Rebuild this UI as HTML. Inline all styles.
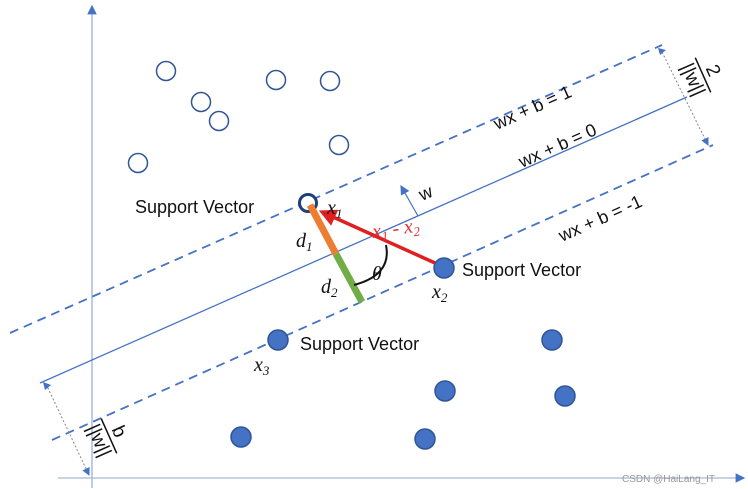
<!DOCTYPE html>
<html><head><meta charset="utf-8"><style>body{margin:0;background:#fff}svg{display:block}</style></head><body>
<svg width="748" height="489" viewBox="0 0 748 489" xmlns="http://www.w3.org/2000/svg" font-family="Liberation Sans, sans-serif">
<defs>
<marker id="ah" markerWidth="8" markerHeight="8" refX="7" refY="4" orient="auto"><path d="M0,0 L8,4 L0,8 z" fill="#4472c4"/></marker>
<marker id="ahr" markerWidth="5" markerHeight="5" refX="4" refY="2.5" orient="auto"><path d="M0,0 L5,2.5 L0,5 z" fill="#e02020"/></marker>
</defs>
<line x1="92" y1="488" x2="92" y2="6" stroke="#8faadc" stroke-width="1.2" marker-end="url(#ah)"/>
<line x1="58" y1="478" x2="744" y2="478" stroke="#a9b8d0" stroke-width="1.2" marker-end="url(#ah)"/>
<line x1="10" y1="333" x2="662" y2="45" stroke="#4472c4" stroke-width="1.8" stroke-dasharray="9,6"/>
<line x1="40" y1="383" x2="687" y2="97" stroke="#4472c4" stroke-width="1.3"/>
<line x1="52" y1="440" x2="713" y2="145" stroke="#4472c4" stroke-width="1.8" stroke-dasharray="9,6"/>
<line x1="662" y1="52" x2="708" y2="145" stroke="#888" stroke-width="1" stroke-dasharray="2,2" marker-end="url(#ah)"/>
<path d="M658,48 l8,2 l-6,5z" fill="#4472c4"/>
<line x1="46" y1="384" x2="89" y2="475" stroke="#888" stroke-width="1" stroke-dasharray="2,2" marker-end="url(#ah)"/>
<path d="M43,382 l8,3 l-6,5z" fill="#4472c4"/>
<g fill="#fff" stroke="#2f5597" stroke-width="1.5">
<circle cx="166" cy="71" r="9.5"/><circle cx="201" cy="102" r="9.5"/><circle cx="219" cy="121" r="9.5"/>
<circle cx="276" cy="80" r="9.5"/><circle cx="330" cy="81" r="9.5"/><circle cx="339" cy="145" r="9.5"/><circle cx="138" cy="163" r="9.5"/>
</g>
<circle cx="308" cy="203" r="8.5" fill="#fff" stroke="#1f3f7a" stroke-width="3"/>
<g fill="#4472c4" stroke="#2f5597" stroke-width="1.5">
<circle cx="444" cy="268" r="10"/><circle cx="278" cy="340" r="10"/><circle cx="552" cy="340" r="10"/>
<circle cx="445" cy="391" r="10"/><circle cx="565" cy="396" r="10"/><circle cx="241" cy="437" r="10"/><circle cx="425" cy="439" r="10"/>
</g>
<line x1="310" y1="205" x2="336" y2="254" stroke="#ed7d31" stroke-width="7"/>
<line x1="336" y1="254" x2="362" y2="302" stroke="#70ad47" stroke-width="7"/>
<line x1="435" y1="263" x2="322" y2="212" stroke="#e02020" stroke-width="3.5" marker-end="url(#ahr)"/>
<path d="M386,245 Q392,275 354,285" fill="none" stroke="#111" stroke-width="2"/>
<line x1="418" y1="216" x2="401" y2="186" stroke="#4472c4" stroke-width="1.2" marker-end="url(#ah)"/>
<g font-size="18" fill="#111">
<text x="135" y="213">Support Vector</text>
<text x="462" y="276">Support Vector</text>
<text x="300" y="350">Support Vector</text>
</g>
<g font-family="Liberation Serif, serif" font-style="italic" font-size="20" fill="#111">
<text x="327" y="214">x<tspan font-size="13" dy="4">1</tspan></text>
<text x="296" y="247">d<tspan font-size="13" dy="4">1</tspan></text>
<text x="321" y="293">d<tspan font-size="13" dy="4">2</tspan></text>
<text x="372" y="280">θ</text>
<text x="432" y="298">x<tspan font-size="13" dy="4">2</tspan></text>
<text x="254" y="371">x<tspan font-size="13" dy="4">3</tspan></text>
<text transform="translate(373,238) rotate(-8)" fill="#e03030">x<tspan font-size="13" dy="4">1</tspan><tspan dy="-4"> - x</tspan><tspan font-size="13" dy="4">2</tspan></text>
</g>
<g font-size="18" fill="#111">
<text transform="translate(422,201) rotate(-23)">w</text>
<text transform="translate(497,130) rotate(-24)">wx + b = 1</text>
<text transform="translate(522,168) rotate(-24)">wx + b = 0</text>
<text transform="translate(562,242) rotate(-24)">wx + b = -1</text>
</g>
<g transform="translate(703,75) rotate(66)" font-size="19" fill="#111">
<text x="0" y="-5" text-anchor="middle">2</text>
<line x1="-19" y1="0" x2="19" y2="0" stroke="#111" stroke-width="1.5"/>
<text x="0" y="17" text-anchor="middle">||w||</text>
</g>
<g transform="translate(109,436) rotate(66)" font-size="19" fill="#111">
<text x="0" y="-5" text-anchor="middle">b</text>
<line x1="-19" y1="0" x2="19" y2="0" stroke="#111" stroke-width="1.5"/>
<text x="0" y="17" text-anchor="middle">||w||</text>
</g>
<text x="622" y="482" font-size="10" fill="#999">CSDN @HaiLang_IT</text>
</svg>
</body></html>
